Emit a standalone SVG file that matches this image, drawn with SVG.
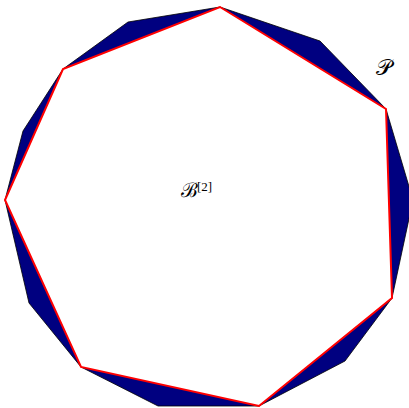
<svg xmlns="http://www.w3.org/2000/svg" width="409" height="408" viewBox="0 0 409 408">
<style>
.outer{fill:#000080;stroke:#000;stroke-width:0.8;stroke-linejoin:miter}
.inner{fill:#fff;stroke:#ff0000;stroke-width:2;stroke-linejoin:miter}
.lbl{font-family:"DejaVu Serif","Liberation Serif",serif;fill:#000}
</style>
<rect width="409" height="408" fill="#fff"/>
<g id="P">
<polygon class="outer" points="220,7 320,41 386,109 413,200 392,298 345,361 259,406 158,406 81,367 29,303 5,200 23,131 63,69 128,22"/>
</g>
<g id="B2">
<polygon class="inner" points="220,7 386,109 392,298 259,406 81,367 5,200 63,69"/>
</g>
<g id="labels">
<text class="lbl" x="181" y="197" font-size="20">ℬ<tspan x="197" y="191" font-family="Liberation Serif" font-size="13">[2]</tspan></text>
<text class="lbl" x="376" y="75" font-size="22">𝒫</text>
</g>
</svg>
